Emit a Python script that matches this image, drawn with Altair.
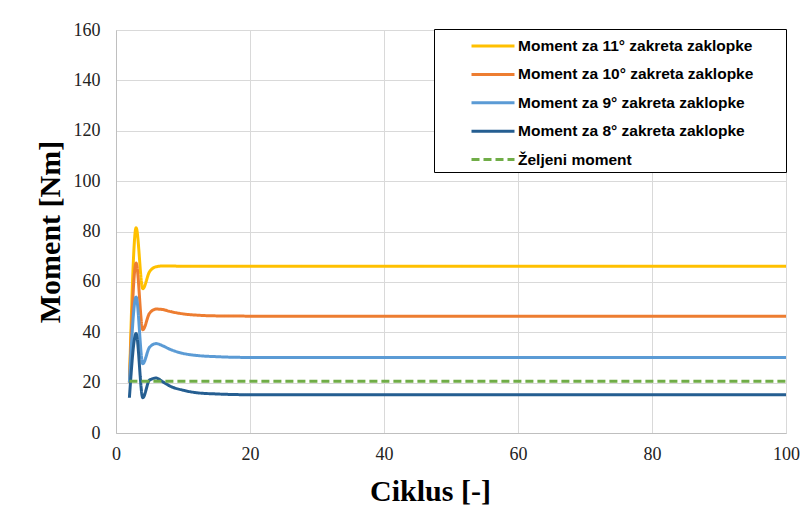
import altair as alt
import pandas as pd

cycles = [2, 3, 4, 5, 6, 7, 8, 10, 12, 15, 20, 30, 40, 50, 60, 70, 80, 90, 100]
m11 = [20, 81.5, 57.3, 64.0, 66.0, 66.3, 66.3, 66.2, 66.2, 66.2, 66.2, 66.2, 66.2, 66.2, 66.2, 66.2, 66.2, 66.2, 66.2]
m10 = [20, 67.5, 41.0, 47.5, 49.2, 49.0, 48.3, 47.3, 46.8, 46.5, 46.4, 46.4, 46.4, 46.4, 46.4, 46.4, 46.4, 46.4, 46.4]
m9 = [20, 54.0, 27.5, 34.0, 35.5, 34.6, 33.3, 31.6, 30.8, 30.3, 30.0, 30.0, 30.0, 30.0, 30.0, 30.0, 30.0, 30.0, 30.0]
m8 = [14, 39.5, 14.0, 21.0, 21.8, 20.3, 18.7, 17.0, 16.0, 15.5, 15.2, 15.2, 15.2, 15.2, 15.2, 15.2, 15.2, 15.2, 15.2]
target = [20.5] * len(cycles)

names = [
    "Moment za 11° zakreta zaklopke",
    "Moment za 10° zakreta zaklopke",
    "Moment za 9° zakreta zaklopke",
    "Moment za 8° zakreta zaklopke",
    "Željeni moment",
]
colors = ["#FFC000", "#ED7D31", "#5B9BD5", "#255E91", "#70AD47"]
dashes = [[1, 0], [1, 0], [1, 0], [1, 0], [8, 4]]

rows = []
for name, vals in zip(names, [m11, m10, m9, m8, target]):
    for c, v in zip(cycles, vals):
        rows.append({"Ciklus": c, "Moment": v, "Serija": name})
df = pd.DataFrame(rows)

legend = alt.Legend(
    title=" ",
    titleOrient="right",
    titleFontSize=1,
    titlePadding=30,
    orient="none",
    legendX=318,
    legendY=-1,
    strokeColor="black",
    fillColor="white",
    padding=3,
    symbolType="M-1.72,0H1.72",
    symbolSize=625,
    symbolStrokeWidth=3,
    symbolOffset=42,
    labelFont="Liberation Sans",
    labelFontWeight="bold",
    labelFontSize=15.5,
    labelColor="black",
    labelOffset=11,
    labelLimit=400,
    rowPadding=5.4,
    offset=0,
)

chart = alt.Chart(df).mark_line(strokeWidth=3, interpolate="monotone").encode(
    x=alt.X("Ciklus:Q", scale=alt.Scale(domain=[0, 100], nice=False),
            axis=alt.Axis(title="Ciklus [-]", values=[0, 20, 40, 60, 80, 100],
                          labelFlush=False, labelFont="Liberation Serif",
                          titleX=314, titleY=43)),
    y=alt.Y("Moment:Q", scale=alt.Scale(domain=[0, 160], nice=False),
            axis=alt.Axis(title="Moment [Nm]", values=list(range(0, 161, 20)),
                          labelFont="Liberation Serif", titleX=-51)),
    color=alt.Color("Serija:N", scale=alt.Scale(domain=names, range=colors), legend=legend),
    strokeDash=alt.StrokeDash("Serija:N", scale=alt.Scale(domain=names, range=dashes), legend=legend),
    order=alt.Order("Ciklus:Q"),
).properties(
    width=670,
    height=403,
    autosize=alt.AutoSizeParams(type="none"),
    padding={"left": 108, "top": 22, "right": 14, "bottom": 72},
).configure_view(
    stroke="#D9D9D9",
).configure_axis(
    grid=True,
    gridColor="#D9D9D9",
    gridWidth=1,
    domainColor="#BFBFBF",
    domainWidth=1,
    ticks=False,
    labelFont="Liberation Serif",
    labelFontSize=18,
    labelColor="#222222",
    labelPadding=12,
    titleFont="Liberation Serif",
    titleFontSize=30,
    titleFontWeight="bold",
    titleColor="black",
).configure_axisY(
    labelPadding=16,
)

chart.save("out.html", embed_options={"renderer": "svg", "actions": False})
